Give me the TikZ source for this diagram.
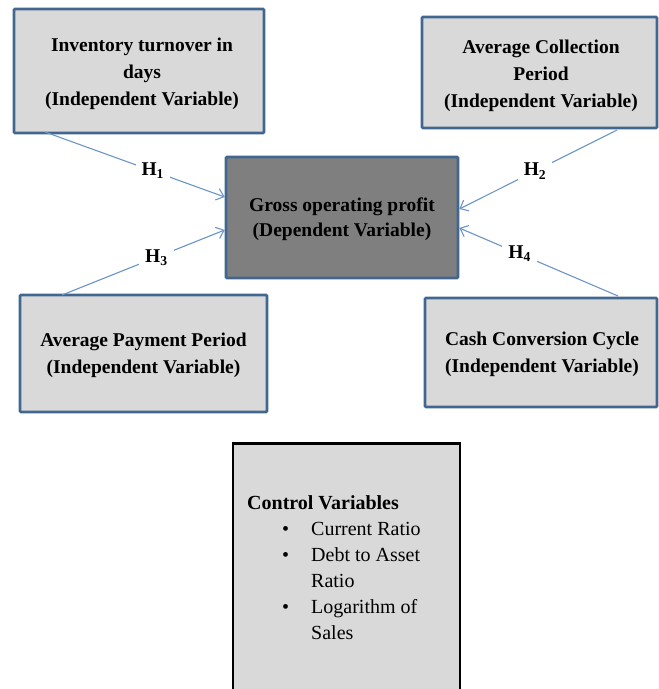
\documentclass[tikz,border=0pt]{standalone}
\usepackage{fontspec}
\setmainfont{Liberation Serif}
\usetikzlibrary{arrows.meta,calc}
\definecolor{boxfill}{HTML}{D9D9D9}
\definecolor{boxline}{HTML}{41668F}
\definecolor{darkfill}{HTML}{7F7F7F}
\definecolor{arrowcol}{HTML}{6A95C8}
\begin{document}
\begin{tikzpicture}[x=1pt,y=-1pt,
  ivbox/.style={draw=boxline, line width=2.6pt, fill=boxfill, rounded corners=1pt, inner sep=0pt},
  dvbox/.style={draw=boxline, line width=2.6pt, fill=darkfill, rounded corners=1pt, inner sep=0pt},
  boxtext/.style={align=center, font=\fontsize{19.5}{27}\selectfont\bfseries, inner sep=0pt},
  dvtext/.style={align=center, font=\fontsize{19.5}{25}\selectfont\bfseries, inner sep=0pt},
  ctrlbox/.style={draw=black, line width=2.6pt, fill=boxfill, inner sep=0pt},
  hyp/.style={draw=arrowcol, line width=1.1pt, -{Straight Barb[length=7pt,width=12pt,line width=1.1pt]}},
  hlabel/.style={fill=white, inner xsep=6pt, inner ysep=3pt, font=\fontsize{19.5}{22}\selectfont\bfseries}
]
\useasboundingbox (0,0) rectangle (659,689);
\clip (0,0) rectangle (659,689);

\node[ivbox, minimum width=250pt, minimum height=124pt] (tl) at (139,71) {};
\node[boxtext] (tlt) at (142,74) {Inventory turnover in\\days\\(Independent Variable)};
\node[ivbox, minimum width=235pt, minimum height=111pt] (tr) at (539.5,72.5) {};
\node[boxtext] (trt) at (541,76) {Average Collection\\Period\\(Independent Variable)};
\node[dvbox, minimum width=232pt, minimum height=121pt] (c) at (342,217.5) {};
\node[dvtext] (ct) at (342,219.5) {Gross operating profit\\(Dependent Variable)};
\node[ivbox, minimum width=247pt, minimum height=117pt] (bl) at (143.5,353.5) {};
\node[boxtext] (blt) at (143.5,355.5) {Average Payment Period\\(Independent Variable)};
\node[ivbox, minimum width=232pt, minimum height=109pt] (br) at (541,352.5) {};
\node[boxtext] (brt) at (542,354.5) {Cash Conversion Cycle\\(Independent Variable)};

\node[ctrlbox, minimum width=227pt, minimum height=270pt, anchor=north] (ctrl) at (346.5,442) {};
\node[anchor=north west, align=left, inner sep=0pt, font=\fontsize{20}{26}\selectfont] (ctext)
  at (247,491.5)
  {\begin{tabular}{@{\hspace{35pt}}l@{\hspace{22pt}}l@{}}
   \multicolumn{2}{@{}l@{}}{\textbf{Control Variables}}\\
   \textbullet & Current Ratio\\
   \textbullet & Debt to Asset\\
    & Ratio\\
   \textbullet & Logarithm of\\
    & Sales
   \end{tabular}};

\coordinate (s1) at (45,132);
\coordinate (s2) at (617,130);
\coordinate (s3) at (62,295);
\coordinate (s4) at (618,296);

\draw[hyp] (s1) -- node[hlabel, pos=0.6] {H\textsubscript{1}} ([yshift=20.5pt]c.west);
\draw[hyp] (s2) -- node[hlabel, pos=0.52] {H\textsubscript{2}} ([yshift=8.5pt]c.east);
\draw[hyp] (s3) -- node[hlabel, pos=0.58] {H\textsubscript{3}} ([yshift=-12.5pt]c.west);
\draw[hyp] (s4) -- node[hlabel, pos=0.62] {H\textsubscript{4}} ([yshift=-10.5pt]c.east);
\end{tikzpicture}
\end{document}
